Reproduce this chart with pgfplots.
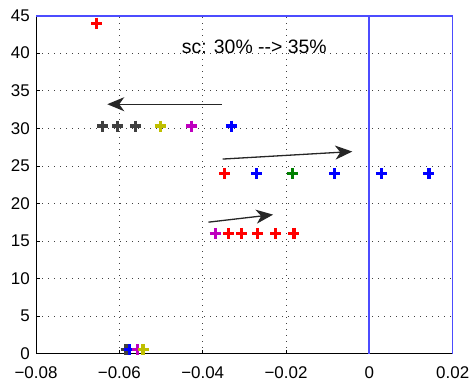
\documentclass[border=0pt]{standalone}
\usepackage{pgfplots}
\pgfplotsset{compat=1.18}
\usepackage{fontspec}
\setmainfont{Liberation Sans}
\usetikzlibrary{arrows.meta}
\definecolor{mgray}{rgb}{0.25,0.25,0.25}
\definecolor{myel}{rgb}{0.75,0.75,0}
\definecolor{mmag}{rgb}{0.75,0,0.75}
\definecolor{mgreen}{rgb}{0,0.5,0}
\definecolor{lblue}{rgb}{0.3,0.3,1}
\begin{document}
\begin{tikzpicture}
\begin{axis}[
  set layers,
  at={(0,0)}, anchor=south west,
  scale only axis, width=416.7bp, height=338bp,
  xmin=-0.08, xmax=0.02, ymin=0, ymax=45,
  axis x line*=bottom, axis y line*=left,
  every outer x axis line/.append style={-},
  every outer y axis line/.append style={-},
  xtick={-0.08,-0.06,-0.04,-0.02,0,0.02},
  xticklabels={−0.08,−0.06,−0.04,−0.02,0,0.02},
  ytick={0,5,10,15,20,25,30,35,40,45},
  scaled x ticks=false,
  /pgf/number format/assume math mode=true,
  tick label style={font=\fontsize{17}{20}\selectfont, inner sep=1bp},
  xticklabel style={yshift=-12bp},
  yticklabel style={xshift=-5bp},
  tick align=inside,
  major tick length=4bp,
  tick style={black, line width=0.6bp},
  axis line style={black, line width=1bp, -},
  grid=major,
  major grid style={black!75, line width=0.6bp, dash pattern=on 1bp off 5bp},
  clip=false,
]
% blue frame lines
\addplot[lblue, line width=1.8bp, on layer=axis foreground] coordinates {(0,0) (0,45)};
\addplot[lblue, line width=1.3bp, on layer=axis foreground] coordinates {(0.02,0) (0.02,45)};
\addplot[lblue, line width=2bp, on layer=axis foreground] coordinates {(-0.08,45) (0.02,45)};
% markers
\addplot[only marks, mark=+, mark size=5.5bp, mgray, mark options={line width=3.2bp}] coordinates {
 (-0.0640,30.3) (-0.0605,30.3) (-0.0561,30.3) (-0.0584,0.5)};
\addplot[only marks, mark=+, mark size=5.5bp, blue, mark options={line width=3.2bp}] coordinates {
 (-0.0331,30.3) (-0.0271,23.95) (-0.0083,23.95) (0.0029,23.95) (0.0143,23.95) (-0.0575,0.5)};
\addplot[only marks, mark=+, mark size=5.5bp, mmag, mark options={line width=3.2bp}] coordinates {
 (-0.0426,30.3) (-0.0370,16.0) (-0.0557,0.5)};
\addplot[only marks, mark=+, mark size=5.5bp, myel, mark options={line width=3.2bp}] coordinates {
 (-0.0502,30.3) (-0.0543,0.5)};
\addplot[only marks, mark=+, mark size=5.5bp, red, mark options={line width=3.2bp}] coordinates {
 (-0.0654,44.0) (-0.0347,23.95) (-0.0338,16.0) (-0.0306,16.0) (-0.0268,16.0) (-0.0225,16.0) (-0.0181,16.0)};
\addplot[only marks, mark=+, mark size=5.5bp, mgreen, mark options={line width=3.2bp}] coordinates {
 (-0.0184,23.95)};
% arrows
\addplot[black!85, line width=1.3bp, -{Stealth[length=17bp,width=14bp,inset=5bp]}] coordinates {(-0.0354,33.2) (-0.0629,33.2)};
\addplot[black!85, line width=1.3bp, -{Stealth[length=17bp,width=14bp,inset=5bp]}] coordinates {(-0.0352,25.9) (-0.0041,26.9)};
\addplot[black!85, line width=1.3bp, -{Stealth[length=17bp,width=14bp,inset=5bp]}] coordinates {(-0.0386,17.5) (-0.0231,18.5)};
\node[anchor=base, inner sep=0pt, font=\fontsize{19.5}{22}\selectfont] at (axis cs:-0.0276,39.9) {sc: 30\% -{}-> 35\%};
\end{axis}
\pgfresetboundingbox
\path[use as bounding box] (-36bp,-27.4bp) rectangle (435bp,353.6bp);
\end{tikzpicture}
\end{document}
